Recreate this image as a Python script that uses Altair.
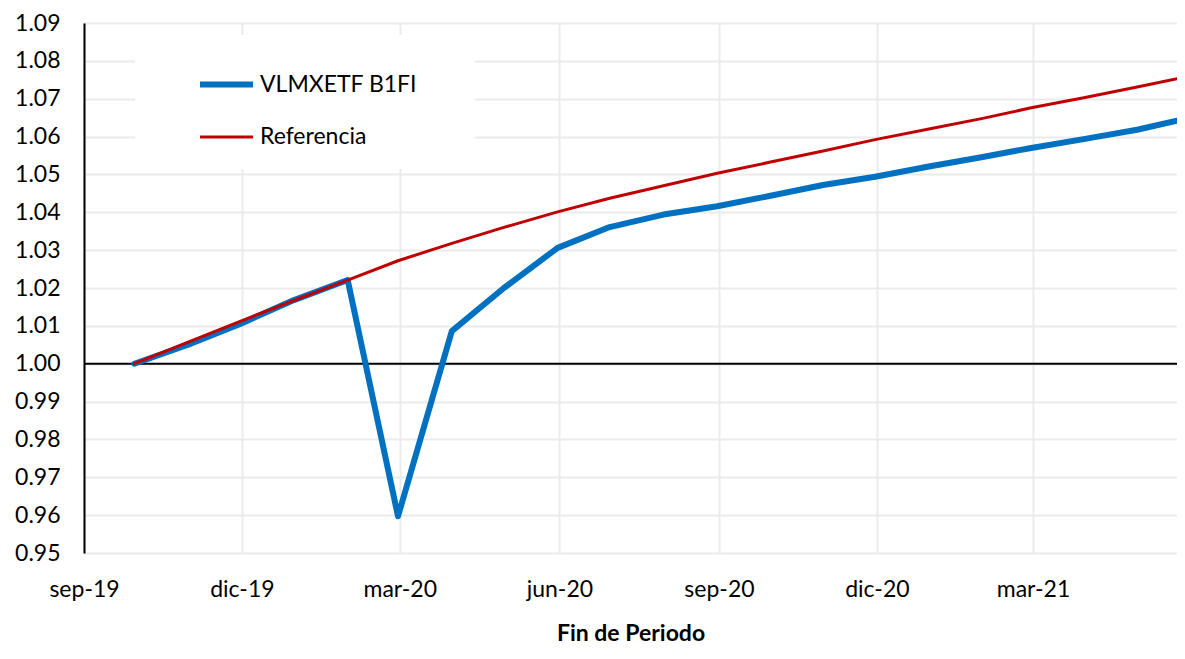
import altair as alt
import pandas as pd

fechas = [
    "2019-09-30", "2019-10-31", "2019-11-30", "2019-12-31", "2020-01-31",
    "2020-02-29", "2020-03-31", "2020-04-30", "2020-05-31", "2020-06-30",
    "2020-07-31", "2020-08-31", "2020-09-30", "2020-10-31", "2020-11-30",
    "2020-12-31", "2021-01-31", "2021-02-28", "2021-03-31", "2021-04-30",
    "2021-05-23",
]
vlmxetf = [
    1.0000, 1.0050, 1.0105, 1.0168, 1.0221, 0.9597, 1.0086, 1.0200, 1.0306,
    1.0361, 1.0394, 1.0416, 1.0443, 1.0472, 1.0494, 1.0521, 1.0546, 1.0570,
    1.0594, 1.0618, 1.0642,
]
referencia = [
    1.0000, 1.0057, 1.0112, 1.0167, 1.0221, 1.0272, 1.0318, 1.0360, 1.0401,
    1.0437, 1.0470, 1.0503, 1.0532, 1.0562, 1.0592, 1.0620, 1.0648, 1.0676,
    1.0703, 1.0731, 1.0753,
]
series = ["VLMXETF B1FI", "Referencia"]
y_ticks = [round(0.95 + 0.01 * i, 2) for i in range(15)]
x_ticks = [(2019, 9), (2019, 12), (2020, 3), (2020, 6), (2020, 9), (2020, 12), (2021, 3)]

rows = []
for f, v in zip(fechas, vlmxetf):
    rows.append({"fecha": f + "T00:00:00", "valor": v, "serie": series[0]})
for f, v in zip(fechas, referencia):
    rows.append({"fecha": f + "T00:00:00", "valor": v, "serie": series[1]})
df = pd.DataFrame(rows)

FONT = "Lato"
FS = 23

x_scale = alt.Scale(
    domain=[alt.DateTime(year=2019, month=9, date=1),
            alt.DateTime(year=2021, month=5, date=23)]
)
y_scale = alt.Scale(domain=[0.95, 1.09], nice=False, zero=False)

label_expr = ("['ene','feb','mar','abr','may','jun','jul','ago','sep','oct','nov','dic']"
              "[month(datum.value)] + '-' + timeFormat(datum.value, '%y')")

x_enc = alt.X(
    "fecha:T",
    scale=x_scale,
    title="Fin de Periodo",
    axis=alt.Axis(
        values=[alt.DateTime(year=y, month=m, date=1) for y, m in x_ticks],
        tickCount=len(x_ticks) + 5,
        labelExpr=label_expr,
        labelFlush=False,
        labelOverlap=False,
        domain=False,
        ticks=False,
        grid=True,
        gridColor="#ebebeb",
        gridWidth=2,
        labelFont=FONT,
        labelFontSize=FS,
        labelColor="#000000",
        labelPadding=25,
        titleFont=FONT,
        titleFontSize=FS,
        titleFontWeight="bold",
        titleColor="#000000",
        titlePadding=21,
    ),
)
y_enc = alt.Y(
    "valor:Q",
    scale=y_scale,
    title=None,
    axis=alt.Axis(
        values=y_ticks,
        tickCount=len(y_ticks) + 5,
        format=".2f",
        labelOverlap=False,
        labelFlush=False,
        domain=True,
        domainColor="#000000",
        domainWidth=2,
        ticks=False,
        grid=True,
        gridColor="#ebebeb",
        gridWidth=2,
        labelFont=FONT,
        labelFontSize=FS,
        labelColor="#000000",
        labelPadding=24,
    ),
)

legend = alt.Legend(
    title="\u00a0",
    titleOrient="right",
    titleFontSize=1,
    titlePadding=38,
    orient="none",
    legendX=51,
    legendY=12,
    fillColor="#ffffff",
    padding=20,
    symbolType="stroke",
    symbolSize=2809,
    symbolOffset=42,
    labelFont=FONT,
    labelFontSize=FS,
    labelColor="#000000",
    labelOffset=4,
    rowPadding=12,
)

base_line = alt.Chart(pd.DataFrame({"y": [1.0]})).mark_rule(
    color="#000000", strokeWidth=2
).encode(y=alt.Y("y:Q", scale=y_scale))

lines = alt.Chart(df).mark_line(strokeCap="round", strokeJoin="round").encode(
    x=x_enc,
    y=y_enc,
    color=alt.Color(
        "serie:N",
        scale=alt.Scale(domain=series, range=["#0070C0", "#C00000"]),
        legend=legend,
    ),
    strokeWidth=alt.StrokeWidth(
        "serie:N",
        scale=alt.Scale(domain=series, range=[6, 3]),
        legend=legend,
    ),
    order=alt.Order("orden:Q"),
).transform_calculate(orden="datum.serie == 'Referencia' ? 1 : 0")

chart = alt.layer(base_line, lines).properties(
    width=1093,
    height=530,
    autosize=alt.AutoSizeParams(type="none"),
    padding={"left": 76, "top": 15, "right": 0, "bottom": 92},
).configure_view(stroke=None).configure(background="#ffffff")

chart.save("out.html", embed_options={"renderer": "svg", "actions": False})
